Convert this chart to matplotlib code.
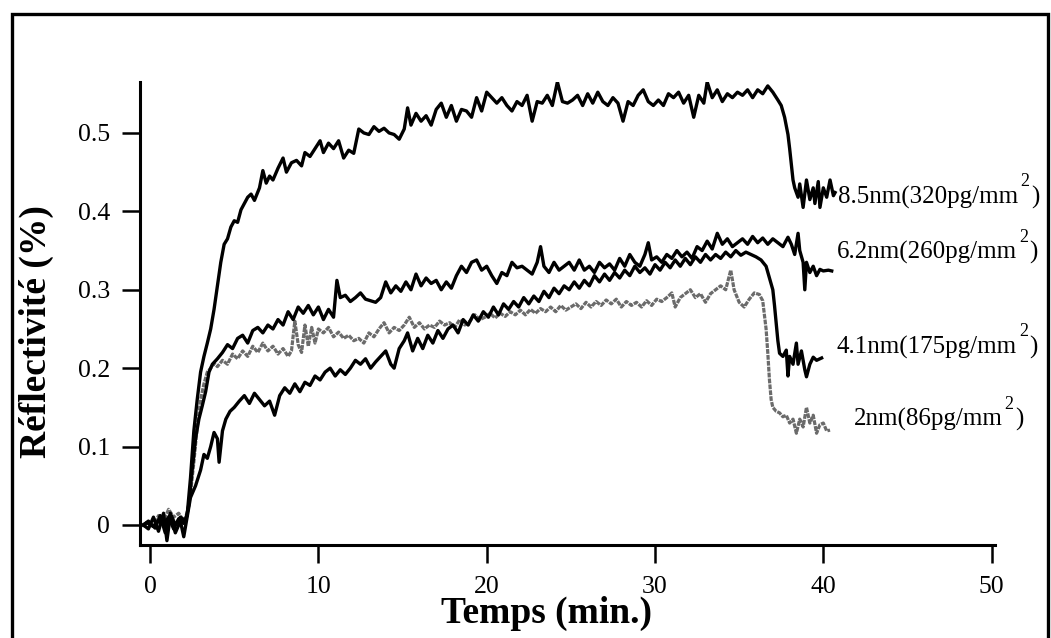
import matplotlib
matplotlib.use("Agg")
import matplotlib.pyplot as plt
from matplotlib.patches import Rectangle

plt.rcParams["font.family"] = ["Liberation Serif", "DejaVu Serif"]

# 8.5 nm (320 pg/mm2)
t_85 = [-0.4, -0.2, 0.2, 0.5, 0.8, 1.1, 1.4, 1.7, 2.0, 2.2, 2.4, 2.6, 2.8, 3.0, 3.2, 3.4, 3.6, 3.8,
        4.0, 4.2, 4.4, 4.6, 4.8, 5.0, 5.2, 5.4, 5.6, 5.8, 6.0, 6.2, 6.5, 6.7, 6.9, 7.1, 7.3, 7.6,
        7.9, 8.1, 8.4, 8.7, 9.0, 9.2, 9.5, 9.8, 10.1, 10.3, 10.6, 10.9, 11.2, 11.5, 11.8, 12.1,
        12.4, 12.7, 13.0, 13.3, 13.6, 13.9, 14.2, 14.5, 14.8, 15.1, 15.3, 15.5, 15.8, 16.1, 16.4,
        16.7, 17.0, 17.3, 17.6, 17.9, 18.2, 18.5, 18.8, 19.1, 19.4, 19.7, 20.0, 20.3, 20.6, 20.9,
        21.2, 21.5, 21.8, 22.1, 22.4, 22.7, 23.0, 23.3, 23.6, 23.9, 24.2, 24.5, 24.8, 25.1, 25.4,
        25.7, 26.0, 26.3, 26.6, 26.9, 27.2, 27.5, 27.8, 28.1, 28.4, 28.7, 29.0, 29.3, 29.6, 29.9,
        30.2, 30.5, 30.8, 31.1, 31.4, 31.7, 32.0, 32.3, 32.6, 32.9, 33.1, 33.4, 33.7, 34.0, 34.3,
        34.6, 34.9, 35.2, 35.5, 35.8, 36.1, 36.4, 36.7, 37.0, 37.3, 37.5, 37.7, 37.9, 38.0, 38.1,
        38.2, 38.3, 38.5, 38.6, 38.8, 39.0, 39.2, 39.4, 39.5, 39.7, 39.8, 40.0, 40.2, 40.4, 40.6,
        40.7]
r_85 = [0.0, 0.003, -0.002, 0.006, 0.0, 0.01, -0.005, 0.008, 0.002, 0.012, 0.06, 0.12, 0.16, 0.195,
        0.215, 0.232, 0.25, 0.275, 0.305, 0.335, 0.358, 0.365, 0.38, 0.388, 0.386, 0.402, 0.41,
        0.418, 0.422, 0.414, 0.43, 0.452, 0.436, 0.445, 0.44, 0.455, 0.468, 0.45, 0.462, 0.465,
        0.458, 0.475, 0.47, 0.48, 0.49, 0.475, 0.487, 0.48, 0.49, 0.468, 0.478, 0.474, 0.505, 0.5,
        0.498, 0.508, 0.502, 0.506, 0.5, 0.498, 0.492, 0.505, 0.532, 0.51, 0.525, 0.515, 0.522,
        0.51, 0.53, 0.538, 0.52, 0.535, 0.515, 0.53, 0.528, 0.52, 0.545, 0.528, 0.552, 0.545,
        0.538, 0.545, 0.535, 0.528, 0.54, 0.535, 0.548, 0.515, 0.54, 0.538, 0.548, 0.535, 0.565,
        0.54, 0.538, 0.542, 0.548, 0.535, 0.55, 0.538, 0.552, 0.54, 0.535, 0.545, 0.538, 0.515,
        0.54, 0.535, 0.548, 0.555, 0.54, 0.535, 0.542, 0.535, 0.55, 0.545, 0.552, 0.538, 0.548,
        0.52, 0.548, 0.538, 0.565, 0.545, 0.555, 0.54, 0.55, 0.545, 0.552, 0.548, 0.555, 0.545,
        0.555, 0.55, 0.56, 0.552, 0.542, 0.535, 0.52, 0.498, 0.48, 0.46, 0.44, 0.43, 0.418,
        0.435, 0.405, 0.44, 0.415, 0.43, 0.41, 0.438, 0.405, 0.43, 0.418, 0.44, 0.42, 0.424]

# 6.2 nm (260 pg/mm2)
t_62 = [-0.4, -0.1, 0.3, 0.6, 0.9, 1.2, 1.5, 1.8, 2.1, 2.3, 2.5, 2.7, 2.9, 3.1, 3.3, 3.5, 3.7, 4.0,
        4.3, 4.6, 4.9, 5.2, 5.5, 5.8, 6.1, 6.4, 6.7, 7.0, 7.3, 7.6, 7.9, 8.2, 8.5, 8.8, 9.1, 9.4,
        9.7, 10.0, 10.3, 10.6, 10.9, 11.1, 11.3, 11.6, 11.9, 12.2, 12.5, 12.8, 13.1, 13.4, 13.7,
        14.0, 14.3, 14.6, 14.9, 15.2, 15.5, 15.8, 16.1, 16.4, 16.7, 17.0, 17.3, 17.6, 17.9, 18.2,
        18.5, 18.8, 19.1, 19.4, 19.7, 20.0, 20.3, 20.6, 20.9, 21.2, 21.5, 21.8, 22.1, 22.4, 22.7,
        23.0, 23.2, 23.4, 23.7, 24.0, 24.3, 24.6, 24.9, 25.2, 25.5, 25.8, 26.1, 26.4, 26.7, 27.0,
        27.3, 27.6, 27.9, 28.2, 28.5, 28.8, 29.1, 29.4, 29.6, 29.8, 30.1, 30.4, 30.7, 31.0, 31.3,
        31.6, 31.9, 32.2, 32.5, 32.8, 33.1, 33.4, 33.7, 34.0, 34.3, 34.6, 34.9, 35.2, 35.5, 35.8,
        36.1, 36.4, 36.7, 37.0, 37.3, 37.6, 37.9, 38.1, 38.3, 38.5, 38.6, 38.8, 38.9, 39.0, 39.2,
        39.4, 39.6, 39.8, 40.0, 40.3, 40.5]
r_62 = [0.0, 0.005, -0.004, 0.012, -0.01, 0.015, 0.0, 0.01, 0.005, 0.025, 0.07, 0.11, 0.135, 0.152,
        0.17, 0.195, 0.205, 0.212, 0.22, 0.23, 0.225, 0.238, 0.242, 0.232, 0.248, 0.252, 0.245,
        0.255, 0.25, 0.262, 0.255, 0.272, 0.262, 0.278, 0.27, 0.28, 0.268, 0.278, 0.262, 0.275,
        0.265, 0.312, 0.29, 0.293, 0.285, 0.29, 0.296, 0.288, 0.286, 0.284, 0.29, 0.31, 0.296,
        0.305, 0.298, 0.31, 0.3, 0.32, 0.305, 0.315, 0.308, 0.312, 0.3, 0.31, 0.302, 0.318, 0.33,
        0.322, 0.335, 0.338, 0.325, 0.33, 0.318, 0.308, 0.322, 0.318, 0.335, 0.328, 0.33, 0.325,
        0.32, 0.335, 0.355, 0.33, 0.322, 0.335, 0.325, 0.33, 0.335, 0.325, 0.338, 0.325, 0.33,
        0.322, 0.335, 0.328, 0.333, 0.325, 0.34, 0.33, 0.345, 0.335, 0.33, 0.345, 0.36, 0.338,
        0.342, 0.335, 0.345, 0.34, 0.35, 0.342, 0.348, 0.34, 0.355, 0.35, 0.362, 0.352, 0.372,
        0.358, 0.365, 0.355, 0.36, 0.365, 0.358, 0.368, 0.36, 0.366, 0.358, 0.365, 0.36, 0.355,
        0.367, 0.358, 0.345, 0.372, 0.35, 0.335, 0.3, 0.335, 0.322, 0.33, 0.318, 0.326, 0.324,
        0.325, 0.324]

# 4.1 nm (175 pg/mm2)
t_41 = [-0.4, -0.1, 0.2, 0.5, 0.8, 1.0, 1.2, 1.5, 1.8, 2.0, 2.2, 2.4, 2.7, 3.0, 3.2, 3.4, 3.6, 3.8,
        4.0, 4.1, 4.3, 4.5, 4.75, 5.0, 5.3, 5.6, 5.9, 6.2, 6.5, 6.8, 7.1, 7.4, 7.7, 8.0, 8.3, 8.6,
        8.9, 9.2, 9.5, 9.8, 10.1, 10.4, 10.7, 11.0, 11.3, 11.6, 11.9, 12.2, 12.5, 12.8, 13.1, 13.4,
        13.7, 14.0, 14.3, 14.5, 14.8, 15.1, 15.3, 15.6, 15.9, 16.2, 16.5, 16.8, 17.1, 17.4, 17.7,
        18.0, 18.3, 18.6, 18.9, 19.2, 19.5, 19.8, 20.1, 20.4, 20.7, 21.0, 21.3, 21.6, 21.9, 22.2,
        22.5, 22.8, 23.1, 23.4, 23.7, 24.0, 24.3, 24.6, 24.9, 25.2, 25.5, 25.8, 26.1, 26.4, 26.7,
        27.0, 27.3, 27.6, 27.9, 28.2, 28.5, 28.8, 29.1, 29.4, 29.7, 30.0, 30.3, 30.6, 30.9, 31.2,
        31.5, 31.8, 32.1, 32.4, 32.7, 33.0, 33.3, 33.6, 33.9, 34.2, 34.5, 34.8, 35.1, 35.4, 35.7,
        36.0, 36.3, 36.6, 36.8, 37.0, 37.1, 37.2, 37.3, 37.4, 37.6, 37.8, 37.9, 38.0, 38.2, 38.4,
        38.5, 38.7, 38.9, 39.0, 39.2, 39.4, 39.6, 39.9]
r_41 = [0.0, -0.005, 0.01, -0.008, 0.015, -0.02, 0.012, -0.01, 0.005, -0.015, 0.01, 0.035, 0.05,
        0.07, 0.09, 0.085, 0.1, 0.118, 0.11, 0.08, 0.12, 0.135, 0.145, 0.15, 0.158, 0.165, 0.155,
        0.168, 0.16, 0.152, 0.158, 0.14, 0.165, 0.175, 0.168, 0.18, 0.17, 0.182, 0.178, 0.19,
        0.185, 0.195, 0.2, 0.19, 0.198, 0.192, 0.2, 0.21, 0.205, 0.212, 0.2, 0.208, 0.215, 0.222,
        0.205, 0.2, 0.225, 0.235, 0.245, 0.222, 0.238, 0.225, 0.242, 0.232, 0.248, 0.238, 0.25,
        0.255, 0.245, 0.262, 0.255, 0.268, 0.26, 0.272, 0.265, 0.278, 0.268, 0.282, 0.275, 0.285,
        0.278, 0.29, 0.282, 0.292, 0.285, 0.298, 0.29, 0.302, 0.295, 0.305, 0.3, 0.31, 0.302,
        0.312, 0.305, 0.318, 0.31, 0.32, 0.312, 0.322, 0.315, 0.325, 0.318, 0.33, 0.322, 0.328,
        0.32, 0.332, 0.325, 0.335, 0.328, 0.338, 0.33, 0.34, 0.332, 0.342, 0.335, 0.345, 0.338,
        0.345, 0.34, 0.348, 0.342, 0.35, 0.344, 0.348, 0.345, 0.342, 0.338, 0.33, 0.315, 0.3,
        0.28, 0.257, 0.235, 0.219, 0.215, 0.223, 0.19, 0.215, 0.205, 0.232, 0.205, 0.222, 0.198,
        0.189, 0.205, 0.214, 0.21, 0.213]

# 2 nm (86 pg/mm2)
t_2 = [-0.4, -0.1, 0.2, 0.5, 0.8, 1.1, 1.4, 1.7, 2.0, 2.2, 2.4, 2.6, 2.8, 3.0, 3.2, 3.4, 3.6, 3.8,
       4.0, 4.3, 4.6, 4.9, 5.2, 5.5, 5.8, 6.1, 6.4, 6.7, 7.0, 7.3, 7.6, 7.9, 8.2, 8.4, 8.6, 8.8,
       9.0, 9.2, 9.4, 9.6, 9.8, 10.0, 10.3, 10.6, 10.9, 11.2, 11.5, 11.8, 12.1, 12.4, 12.7, 13.0,
       13.3, 13.6, 13.9, 14.2, 14.5, 14.8, 15.1, 15.4, 15.7, 16.0, 16.3, 16.6, 16.9, 17.2, 17.5,
       17.8, 18.1, 18.4, 18.7, 19.0, 19.3, 19.6, 19.9, 20.2, 20.5, 20.8, 21.1, 21.4, 21.7, 22.0,
       22.3, 22.6, 22.9, 23.2, 23.5, 23.8, 24.1, 24.4, 24.7, 25.0, 25.3, 25.6, 25.9, 26.2, 26.5,
       26.8, 27.1, 27.4, 27.7, 28.0, 28.3, 28.6, 28.9, 29.2, 29.5, 29.8, 30.1, 30.4, 30.7, 31.0,
       31.2, 31.5, 31.8, 32.1, 32.4, 32.7, 33.0, 33.3, 33.6, 33.9, 34.2, 34.5, 34.7, 35.0, 35.3,
       35.6, 35.9, 36.2, 36.4, 36.6, 36.7, 36.8, 36.9, 37.0, 37.2, 37.4, 37.6, 37.8, 38.0, 38.2,
       38.4, 38.6, 38.8, 39.0, 39.2, 39.4, 39.6, 39.8, 40.0, 40.2, 40.4]
r_2 = [-0.002, 0.004, -0.002, 0.012, 0.005, 0.02, 0.01, 0.015, 0.005, 0.015, 0.04, 0.08, 0.125,
       0.16, 0.18, 0.195, 0.2, 0.206, 0.202, 0.21, 0.205, 0.218, 0.212, 0.222, 0.215, 0.228, 0.22,
       0.232, 0.222, 0.228, 0.218, 0.225, 0.215, 0.222, 0.26, 0.23, 0.22, 0.255, 0.228, 0.252,
       0.232, 0.25, 0.245, 0.252, 0.24, 0.246, 0.238, 0.242, 0.235, 0.238, 0.232, 0.245, 0.24,
       0.25, 0.258, 0.245, 0.252, 0.248, 0.255, 0.265, 0.252, 0.258, 0.25, 0.255, 0.252, 0.26,
       0.255, 0.258, 0.252, 0.262, 0.255, 0.26, 0.268, 0.262, 0.265, 0.27, 0.264, 0.27, 0.266,
       0.272, 0.268, 0.274, 0.268, 0.275, 0.27, 0.276, 0.272, 0.278, 0.272, 0.28, 0.274, 0.278,
       0.282, 0.276, 0.284, 0.278, 0.285, 0.28, 0.287, 0.282, 0.288, 0.278, 0.285, 0.28, 0.284,
       0.278, 0.286, 0.28, 0.288, 0.285, 0.29, 0.296, 0.278, 0.29, 0.295, 0.3, 0.29, 0.295,
       0.284, 0.295, 0.3, 0.305, 0.3, 0.325, 0.3, 0.284, 0.278, 0.288, 0.296, 0.294, 0.286, 0.25,
       0.22, 0.185, 0.16, 0.15, 0.145, 0.143, 0.138, 0.14, 0.13, 0.135, 0.117, 0.135, 0.125,
       0.15, 0.13, 0.14, 0.117, 0.128, 0.13, 0.12, 0.121]

labels = ["8.5nm(320pg/mm", "6.2nm(260pg/mm", "4.1nm(175pg/mm", "2nm(86pg/mm"]
label_pos = [(40.9, 0.418), (40.8, 0.347), (40.8, 0.226), (41.8, 0.134)]
x_ticks = [0, 10, 20, 30, 40, 50]
y_ticks = [0, 0.1, 0.2, 0.3, 0.4, 0.5]
y_ticklabels = ["0", "0.1", "0.2", "0.3", "0.4", "0.5"]

fig = plt.figure(figsize=(10.51, 6.38), dpi=100)
ax = fig.add_axes([0.1332, 0.1458, 0.8135, 0.7257])

ax.plot(t_2, r_2, color="0.42", lw=2.3, ls=(0, (1.5, 0.35)))
ax.plot(t_41, r_41, color="black", lw=2.4)
ax.plot(t_62, r_62, color="black", lw=2.4)
ax.plot(t_85, r_85, color="black", lw=2.4)

ax.set_xlim(-0.6, 50.2)
ax.set_ylim(-0.0255, 0.565)
ax.set_xticks(x_ticks)
ax.set_yticks(y_ticks)
ax.set_yticklabels(y_ticklabels)
for side in ("top", "right"):
    ax.spines[side].set_visible(False)
for side in ("left", "bottom"):
    ax.spines[side].set_linewidth(2.2)
ax.tick_params(axis="x", direction="out", length=13, width=1.8, pad=9, labelsize=18.5)
ax.tick_params(axis="y", direction="out", length=13, width=1.8, pad=8.5, labelsize=18.5)

ax.set_xlabel("Temps (min.)", fontsize=27, fontweight="bold")
ax.xaxis.set_label_coords(0.476, -0.111)
ax.set_ylabel("Réflectivité (%)", fontsize=27, fontweight="bold")
ax.yaxis.set_label_coords(-0.100, 0.46)

for text, (x, y) in zip(labels, label_pos):
    main = ax.text(x, y, text, fontsize=18, ha="left", va="center", clip_on=False)
    ax.annotate("2", xy=(1, 1), xycoords=main, xytext=(1.5, -3), textcoords="offset points",
                fontsize=13, ha="left", va="bottom")
    ax.annotate(")", xy=(1, 0), xycoords=main, xytext=(9, 0), textcoords="offset points",
                fontsize=18, ha="left", va="bottom")

fig.patches.append(Rectangle((12 / 1051, -0.01), 1036 / 1051, 1 - 14 / 638 + 0.01,
                             transform=fig.transFigure, fill=False, lw=2.4, edgecolor="black"))

fig.savefig("out.png", dpi=100)
